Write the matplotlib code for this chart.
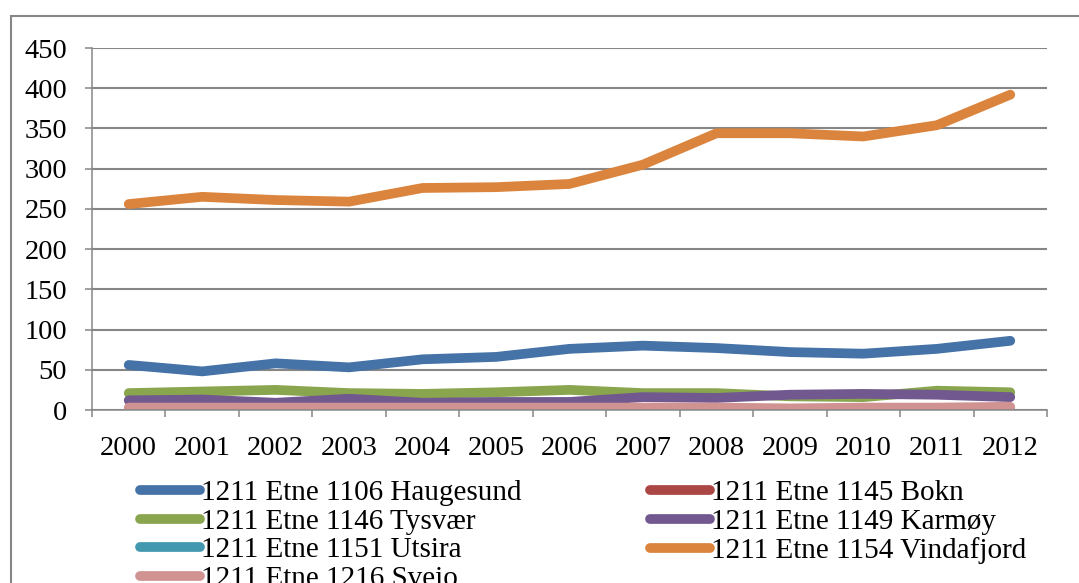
import matplotlib
matplotlib.use("Agg")
import matplotlib.pyplot as plt
from matplotlib.patches import Rectangle

years = ["2000", "2001", "2002", "2003", "2004", "2005", "2006",
         "2007", "2008", "2009", "2010", "2011", "2012"]

haugesund = [56, 48, 58, 53, 63, 66, 76, 80, 77, 72, 70, 76, 86]
bokn = [0, 0, 0, 0, 0, 0, 0, 0, 0, 0, 0, 0, 0]
tysvaer = [21, 23, 25, 21, 20, 22, 25, 21, 21, 17, 16, 24, 22]
karmoy = [12, 13, 9, 14, 9, 10, 10, 16, 15, 19, 20, 19, 16]
utsira = [0, 0, 0, 0, 0, 0, 0, 0, 0, 0, 0, 0, 0]
vindafjord = [256, 265, 261, 259, 276, 277, 281, 305, 344, 344, 340, 354, 392]
sveio = [3, 3, 3, 3, 3, 3, 3, 3, 3, 2, 3, 3, 4]

series = [
    ("1211 Etne 1106 Haugesund", haugesund, "#4572A7"),
    ("1211 Etne 1145 Bokn", bokn, "#AA4643"),
    ("1211 Etne 1146 Tysvær", tysvaer, "#89A54E"),
    ("1211 Etne 1149 Karmøy", karmoy, "#71588F"),
    ("1211 Etne 1151 Utsira", utsira, "#4198AF"),
    ("1211 Etne 1154 Vindafjord", vindafjord, "#DB843D"),
    ("1211 Etne 1216 Sveio", sveio, "#D09392"),
]

yticks = [0, 50, 100, 150, 200, 250, 300, 350, 400, 450]

W, H = 1079, 583
fig = plt.figure(figsize=(W / 100, H / 100), dpi=100)
fig.patch.set_facecolor("white")

left, right, top, bottom = 92, 1047, 48, 410
ax = fig.add_axes([left / W, 1 - bottom / H, (right - left) / W, (bottom - top) / H])

grey = "#868686"
font = "Liberation Serif"
fs = 20.5

x = list(range(len(years)))
handles = {}
for name, vals, col in series:
    (ln,) = ax.plot(x, vals, color=col, lw=7, solid_capstyle="round",
                    solid_joinstyle="round", label=name)
    handles[name] = ln

ax.set_xlim(-0.5, len(years) - 0.5)
ax.set_ylim(0, 450)
ax.set_yticks(yticks)
ax.set_yticklabels([str(v) for v in yticks], fontsize=fs, family=font)
ax.set_xticks(x)
ax.set_xticklabels(years, fontsize=fs, family=font)
ax.set_xticks([i - 0.5 for i in range(len(years) + 1)], minor=True)
ax.tick_params(axis="x", which="major", length=0, pad=19)
ax.tick_params(axis="x", which="minor", length=5, width=1.1, color=grey, direction="out")
ax.tick_params(axis="y", length=5, width=1.1, color=grey, direction="out", pad=13)

ax.grid(axis="y", color=grey, lw=1.5)
ax.set_axisbelow(True)
for s in ["top", "right"]:
    ax.spines[s].set_visible(False)
for s in ["left", "bottom"]:
    ax.spines[s].set_color(grey)
    ax.spines[s].set_linewidth(1.1)

order = ["1211 Etne 1106 Haugesund", "1211 Etne 1146 Tysvær",
         "1211 Etne 1151 Utsira", "1211 Etne 1216 Sveio",
         "1211 Etne 1145 Bokn", "1211 Etne 1149 Karmøy",
         "1211 Etne 1154 Vindafjord"]
leg = fig.legend([handles[n] for n in order], order, loc="upper left",
                 bbox_to_anchor=(140 / W, 1 - 480 / H), ncol=2, frameon=False,
                 borderpad=0, borderaxespad=0, handlelength=2.05,
                 handletextpad=0.05, columnspacing=4.4, labelspacing=0.07,
                 prop={"family": font, "size": 21})

fig.patches.append(Rectangle((11 / W, -0.1), 1.2, 1 - 16 / H + 0.1,
                             transform=fig.transFigure, fill=False,
                             edgecolor=grey, lw=1.5))

fig.savefig("out.png", dpi=100)
